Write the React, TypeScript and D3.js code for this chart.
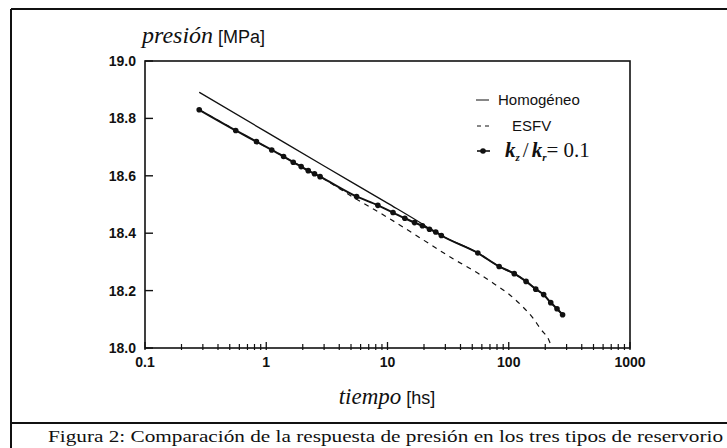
import React from 'react'
import * as d3 from 'd3'

// tiempo [hs] / presión [MPa]
const kzTime = [0.28, 0.56, 0.83, 1.11, 1.39, 1.67, 1.94, 2.22, 2.5, 2.78,
  5.56, 8.33, 11.1, 13.9, 16.7, 19.4, 22.2, 25, 27.8,
  55.6, 83.3, 111, 139, 167, 194, 222, 250, 278]
const kzPres = [18.83, 18.758, 18.719, 18.69, 18.667, 18.647, 18.632, 18.618, 18.607, 18.597,
  18.528, 18.497, 18.472, 18.452, 18.437, 18.426, 18.414, 18.404, 18.392,
  18.331, 18.284, 18.259, 18.232, 18.205, 18.186, 18.158, 18.137, 18.116]

const homTime = [0.28, 1, 3, 10, 19.4, 22.2, 25, 27.8, 55.6, 83.3, 111, 139, 167, 194, 222, 250, 278]
const homPres = [18.891, 18.753, 18.634, 18.505, 18.432, 18.416, 18.405, 18.393, 18.331, 18.284, 18.259, 18.232, 18.205, 18.186, 18.158, 18.137, 18.116]

const esfvTime = [0.28, 1, 2, 2.78, 5, 10, 20, 35, 55, 75, 100, 126, 158, 184, 214, 225]
const esfvPres = [18.83, 18.7, 18.63, 18.597, 18.53, 18.455, 18.375, 18.31, 18.262, 18.225, 18.188, 18.15, 18.105, 18.065, 18.028, 18.005]

const xTicks = [0.1, 1, 10, 100, 1000]
const xTickLabels = ['0.1', '1', '10', '100', '1000']
const yTicks = [18.0, 18.2, 18.4, 18.6, 18.8, 19.0]
const yTickLabels = ['18.0', '18.2', '18.4', '18.6', '18.8', '19.0']

const legendLabels = ['Homogéneo', 'ESFV']
const caption = 'Figura 2: Comparación de la respuesta de presión en los tres tipos de reservorio'

export default function App() {
  const W = 727
  const H = 448
  const m = { left: 145, right: 630, top: 61, bottom: 348 }

  const x = d3.scaleLog().domain([0.1, 1000]).range([m.left, m.right])
  const y = d3.scaleLinear().domain([18, 19]).range([m.bottom, m.top])

  const line = d3.line<[number, number]>()
    .x(d => x(d[0]))
    .y(d => y(d[1]))
    .curve(d3.curveMonotoneX)

  const zip = (a: number[], b: number[]) => a.map((t, i) => [t, b[i]] as [number, number])
  const kz = zip(kzTime, kzPres)
  const hom = zip(homTime, homPres)
  const esfv = zip(esfvTime, esfvPres)

  const minor = x.ticks().filter(t => !xTicks.includes(t))

  const sans = 'Liberation Sans, Arial, sans-serif'
  const serif = 'Liberation Serif, Times New Roman, serif'

  return (
    <svg width={W} height={H} style={{ position: 'absolute', left: 0, top: 0, background: '#fff' }}>
      {/* marco de la figura */}
      <g stroke="#111" strokeWidth={2} fill="none">
        <line x1={11} y1={9} x2={W} y2={9} />
        <line x1={11} y1={9} x2={11} y2={H} />
        <line x1={11} y1={423} x2={W} y2={423} />
      </g>

      {/* ejes */}
      <rect x={m.left} y={m.top} width={m.right - m.left} height={m.bottom - m.top}
        fill="none" stroke="#111" strokeWidth={1.6} />
      {yTicks.map(t => (
        <line key={'yt' + t} x1={m.left} x2={m.left + 8} y1={y(t)} y2={y(t)} stroke="#111" strokeWidth={1.4} />
      ))}
      {yTicks.map((t, i) => (
        <text key={'yl' + t} x={m.left - 9} y={y(t) + 5} textAnchor="end"
          fontFamily={sans} fontWeight="bold" fontSize={14} fill="#111">{yTickLabels[i]}</text>
      ))}
      {minor.map(t => (
        <line key={'mt' + t} x1={x(t)} x2={x(t)} y1={m.bottom + 2} y2={m.bottom - 4} stroke="#111" strokeWidth={1.2} />
      ))}
      {xTicks.map(t => (
        <line key={'xt' + t} x1={x(t)} x2={x(t)} y1={m.bottom + 2} y2={m.bottom - 6} stroke="#111" strokeWidth={1.3} />
      ))}
      {xTicks.map((t, i) => (
        <text key={'xl' + t} x={x(t)} y={m.bottom + 19} textAnchor="middle"
          fontFamily={sans} fontWeight="bold" fontSize={14} fill="#111">{xTickLabels[i]}</text>
      ))}

      {/* títulos de ejes */}
      <text x={142} y={43} fontSize={24} fill="#111">
        <tspan fontFamily={serif} fontStyle="italic">presión</tspan>
        <tspan fontFamily={sans} fontSize={18} dx={5}>[MPa]</tspan>
      </text>
      <text x={387} y={404} textAnchor="middle" fontSize={23} fill="#111">
        <tspan fontFamily={serif} fontStyle="italic">tiempo</tspan>
        <tspan fontFamily={sans} fontSize={18} dx={5}>[hs]</tspan>
      </text>

      {/* curvas */}
      <path d={line(hom) || ''} fill="none" stroke="#111" strokeWidth={1.3} />
      <path d={line(esfv) || ''} fill="none" stroke="#111" strokeWidth={1.2} strokeDasharray="5,5" />
      <path d={line(kz) || ''} fill="none" stroke="#111" strokeWidth={2} />
      {kz.map(d => (
        <circle key={'p' + d[0]} cx={x(d[0])} cy={y(d[1])} r={2.8} fill="#111" />
      ))}

      {/* leyenda */}
      <line x1={476} x2={489} y1={100} y2={100} stroke="#111" strokeWidth={1} />
      <text x={498} y={105} fontFamily={sans} fontSize={15} fill="#111">{legendLabels[0]}</text>
      <line x1={477} x2={490} y1={126} y2={126} stroke="#111" strokeWidth={1.2} strokeDasharray="4,4" />
      <text x={512} y={131} fontFamily={sans} fontSize={15} fill="#111">{legendLabels[1]}</text>
      <line x1={477} x2={490} y1={151} y2={151} stroke="#111" strokeWidth={1.6} />
      <circle cx={483} cy={151} r={2.8} fill="#111" />
      <text x={505} y={157} fontFamily={serif} fontSize={21} fill="#111">
        <tspan fontStyle="italic" fontWeight="bold">k</tspan>
        <tspan fontStyle="italic" fontWeight="bold" fontSize={11} dy={4}>z</tspan>
        <tspan dy={-4} dx={3}>/</tspan>
        <tspan fontStyle="italic" fontWeight="bold" dx={3}>k</tspan>
        <tspan fontStyle="italic" fontWeight="bold" fontSize={11} dy={4}>r</tspan>
        <tspan dy={-4}>= 0.1</tspan>
      </text>

      {/* pie de figura */}
      <text x={48} y={442} fontFamily={serif} fontSize={17} fill="#111"
        textLength={675} lengthAdjust="spacingAndGlyphs">{caption}</text>
    </svg>
  )
}
